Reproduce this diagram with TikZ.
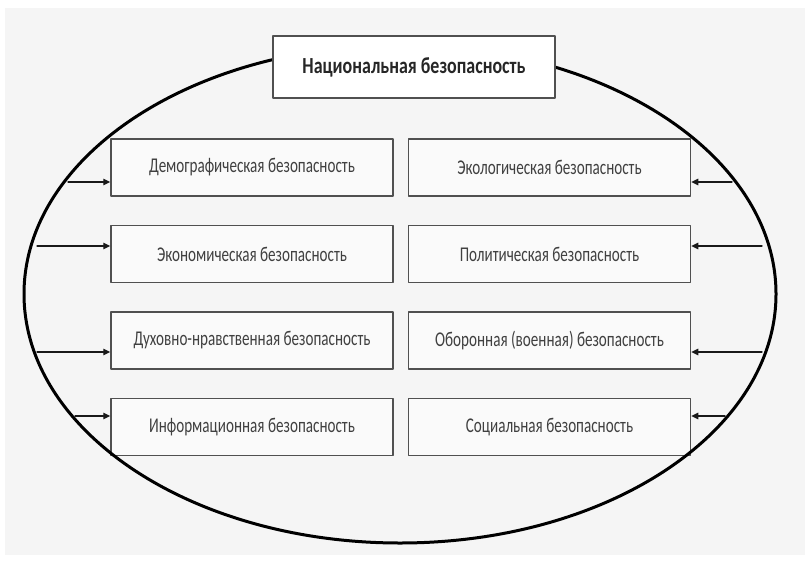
\documentclass[tikz,border=0pt]{standalone}
\usepackage{fontspec}
\usepackage{xcolor}
\setmainfont{Carlito}
\newfontfamily\boxfont[FakeStretch=0.72]{Carlito}
\newfontfamily\titlefont[FakeStretch=0.78]{Carlito}
\usepackage{tikz}
\usetikzlibrary{positioning,arrows.meta}

\definecolor{bggray}{HTML}{F5F5F5}
\definecolor{boxfill}{HTML}{FAFAFA}
\definecolor{boxgray}{HTML}{505050}
\definecolor{textgray}{HTML}{404040}

\begin{document}
\begin{tikzpicture}[
					x=1pt,y=-1pt,
					>={Triangle[length=7pt,width=6.5pt]},
					line cap=round,line join=round,
					secbox/.style={draw=boxgray, line width=1.5pt, fill=boxfill,
						minimum width=282pt, minimum height=57pt, inner sep=0pt,
						font=\boxfont\fontsize{21}{24}\selectfont, text=textgray},
					titlebox/.style={secbox, fill=white, minimum height=62pt,
						font=\titlefont\bfseries\fontsize{23}{26}\selectfont, text=black!85},
					arr/.style={->, black!90, line width=1.3pt}
					]
					%----- page and grey sheet
					\useasboundingbox[fill=white] (0,0) rectangle (805,565);
					\fill[bggray] (5,8) rectangle (805,555);
					
					%----- left column
					\node[secbox] (dem) at (252,167.5) {Демографическая безопасность};
					\node[secbox, below=28pt of dem] (eco) {Экономическая безопасность};
					\node[secbox, below=28pt of eco] (duh) {Духовно-нравственная безопасность};
					\node[secbox, below=28pt of duh] (inf) {Информационная безопасность};
					
					%----- right column
					\node[secbox, right=14pt of dem] (ecol) {Экологическая безопасность};
					\node[secbox, right=14pt of eco] (pol) {Политическая безопасность};
					\node[secbox, right=14pt of duh] (obor) {Оборонная (военная) безопасность};
					\node[secbox, right=14pt of inf] (soc) {Социальная безопасность};
					
					%----- big ellipse
					\draw[black, line width=3pt] (400,294) ellipse [x radius=376, y radius=249];
					
					%----- title on top of the ellipse
					\node[titlebox] (nat) at (414,67) {Национальная безопасность};
					
					%----- arrows from the ellipse into the boxes
					\foreach \x/\y/\n in {68/182/dem, 37/246/eco, 37/352/duh, 75/416/inf}{
						\coordinate (s\n) at (\x,\y);
						\draw[arr] (s\n) -- (s\n -| \n.west);
					}
					\foreach \x/\y/\n in {732/182/ecol, 762/246/pol, 762/352/obor, 725/416/soc}{
						\coordinate (s\n) at (\x,\y);
						\draw[arr] (s\n) -- (s\n -| \n.east);
					}
					
				\end{tikzpicture}
\end{document}
